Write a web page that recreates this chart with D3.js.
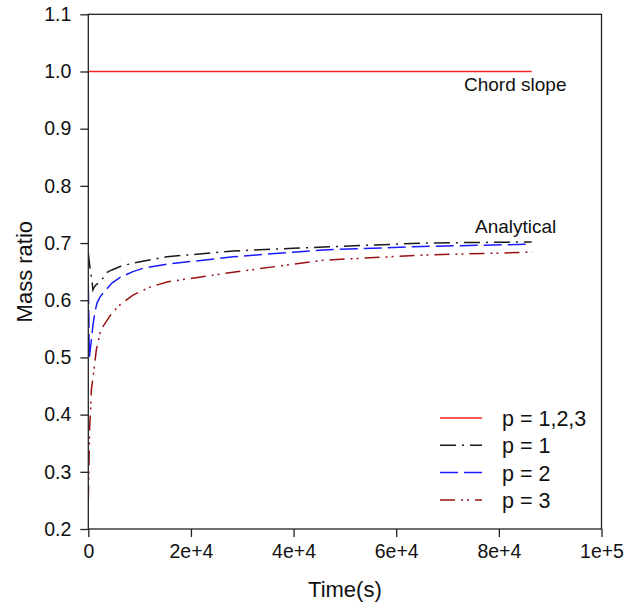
<!DOCTYPE html>
<html>
<head>
<meta charset="utf-8">
<script src="https://cdn.jsdelivr.net/npm/d3@7/dist/d3.min.js"></script>
<style>
  html, body { margin: 0; padding: 0; background: #fff; }
  svg { display: block; font-family: "Liberation Sans", Arial, sans-serif; }
</style>
</head>
<body>
<svg id="chart" width="624" height="605"></svg>
<script>
// Axis ticks
const xTicks = [0, 20000, 40000, 60000, 80000, 100000];
const xTickLabels = ["0", "2e+4", "4e+4", "6e+4", "8e+4", "1e+5"];
const yTicks = [0.2, 0.3, 0.4, 0.5, 0.6, 0.7, 0.8, 0.9, 1.0, 1.1];

// Chord slope (same for p = 1,2,3)
const chordTime = [0, 86400];
const chordRatio = [1.0, 1.0];

// Analytical, p = 1
const p1Time = [0, 150, 400, 700, 900, 1100, 1500, 2300, 2900, 3650, 4600, 6200, 8700, 15300, 28200, 39900, 45800, 65200, 86400];
const p1Ratio = [0.683, 0.670, 0.652, 0.635, 0.618, 0.622, 0.627, 0.632, 0.639, 0.649, 0.653, 0.659, 0.665, 0.676, 0.686, 0.691, 0.693, 0.700, 0.702];

// Analytical, p = 2
const p2Time = [0, 100, 200, 400, 600, 900, 1300, 1700, 2300, 4600, 6200, 8700, 10700, 15300, 28200, 39900, 45800, 65200, 86400];
const p2Ratio = [0.625, 0.570, 0.500, 0.515, 0.530, 0.556, 0.580, 0.595, 0.606, 0.630, 0.640, 0.650, 0.656, 0.663, 0.676, 0.684, 0.688, 0.694, 0.698];

// Analytical, p = 3
const p3Time = [0, 40, 195, 270, 470, 585, 1110, 1560, 2420, 4620, 6180, 8710, 12030, 15340, 28200, 39900, 45750, 65240, 86400];
const p3Ratio = [0.250, 0.273, 0.343, 0.378, 0.413, 0.443, 0.478, 0.513, 0.548, 0.578, 0.592, 0.609, 0.623, 0.632, 0.649, 0.663, 0.670, 0.679, 0.684];

const seriesNames = ["p = 1,2,3", "p = 1", "p = 2", "p = 3"];
const seriesColors = ["#ff2020", "#1a1a1a", "#1a1aff", "#9b1010"];
const seriesDashes = [null, "16,6,2,6", "18,6", "15,6,2,4,2,6"];

const svg = d3.select("#chart");
const plotLeft = 88.3, plotRight = 601.5, plotTop = 14.3, plotBottom = 529;
const tickFont = 19.5, titleFont = 22, noteFont = 19, legendFont = 21.5;

const x = d3.scaleLinear().domain([0, 100000]).range([plotLeft, plotRight]);
const y = d3.scaleLinear().domain([0.2, 1.1]).range([plotBottom, plotTop]);

// Data lines
const line = d3.line().x(d => x(d[0])).y(d => y(d[1]));
const series = [
  d3.zip(chordTime, chordRatio),
  d3.zip(p1Time, p1Ratio),
  d3.zip(p2Time, p2Ratio),
  d3.zip(p3Time, p3Ratio)
];

svg.append("clipPath").attr("id", "plot-clip")
  .append("rect").attr("x", plotLeft).attr("y", plotTop)
  .attr("width", plotRight - plotLeft).attr("height", plotBottom - plotTop);

const plot = svg.append("g").attr("clip-path", "url(#plot-clip)");
// analytical curves first, chord line on top
[3, 2, 1, 0].forEach(i => {
  plot.append("path")
    .datum(series[i])
    .attr("fill", "none")
    .attr("stroke", seriesColors[i])
    .attr("stroke-width", 1.5)
    .attr("stroke-dasharray", seriesDashes[i])
    .attr("d", line);
});

// Frame
svg.append("rect")
  .attr("x", plotLeft).attr("y", plotTop)
  .attr("width", plotRight - plotLeft).attr("height", plotBottom - plotTop)
  .attr("fill", "none").attr("stroke", "#222").attr("stroke-width", 1.3);

// X axis
const xAxis = d3.axisBottom(x)
  .tickValues(xTicks)
  .tickFormat((d, i) => xTickLabels[i])
  .tickSize(8)
  .tickPadding(7);
const gx = svg.append("g").attr("transform", `translate(0,${plotBottom})`).call(xAxis);
gx.select(".domain").remove();
gx.selectAll("line").attr("stroke", "#222").attr("stroke-width", 1.3);
gx.selectAll("text").attr("fill", "#111").style("font-size", tickFont + "px")
  .style("font-family", "'Liberation Sans', Arial, sans-serif");

// Y axis
const yAxis = d3.axisLeft(y)
  .tickValues(yTicks)
  .tickFormat(d3.format(".1f"))
  .tickSize(8)
  .tickPadding(9);
const gy = svg.append("g").attr("transform", `translate(${plotLeft},0)`).call(yAxis);
gy.select(".domain").remove();
gy.selectAll("line").attr("stroke", "#222").attr("stroke-width", 1.3);
gy.selectAll("text").attr("fill", "#111").style("font-size", tickFont + "px")
  .style("font-family", "'Liberation Sans', Arial, sans-serif");

// Axis titles
svg.append("text")
  .attr("x", (plotLeft + plotRight) / 2).attr("y", 597)
  .attr("text-anchor", "middle")
  .style("font-size", titleFont + "px").attr("fill", "#111")
  .text("Time(s)");

svg.append("text")
  .attr("transform", `translate(32,${(plotTop + plotBottom) / 2}) rotate(-90)`)
  .attr("text-anchor", "middle")
  .style("font-size", titleFont + "px").attr("fill", "#111")
  .text("Mass ratio");

// Curve annotations
svg.append("text").attr("x", 464).attr("y", 91)
  .style("font-size", noteFont + "px").attr("fill", "#111").text("Chord slope");
svg.append("text").attr("x", 475).attr("y", 233)
  .style("font-size", noteFont + "px").attr("fill", "#111").text("Analytical");

// Legend
const legend = svg.append("g");
const legY0 = 418, legStep = 27.3;
seriesNames.forEach((name, i) => {
  const ly = legY0 + i * legStep;
  legend.append("line")
    .attr("x1", 440).attr("x2", 482)
    .attr("y1", ly).attr("y2", ly)
    .attr("stroke", seriesColors[i])
    .attr("stroke-width", 1.5)
    .attr("stroke-dasharray", seriesDashes[i]);
  legend.append("text")
    .attr("x", 502).attr("y", ly + 8)
    .style("font-size", legendFont + "px").attr("fill", "#111")
    .text(name);
});
</script>
</body>
</html>
